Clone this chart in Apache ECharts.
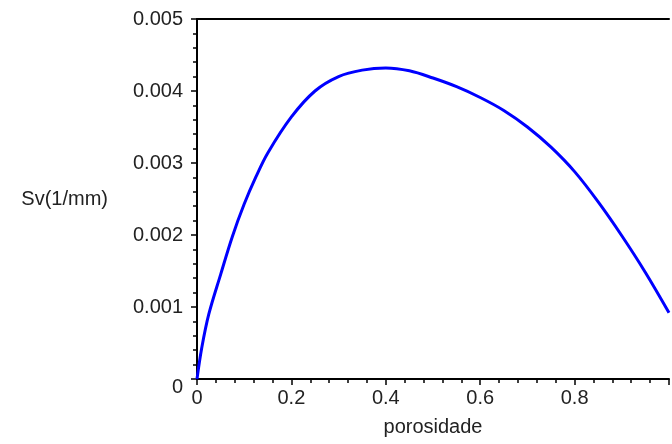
<!DOCTYPE html>
<html><head><meta charset="utf-8">
<script src="https://cdn.jsdelivr.net/npm/echarts@6/dist/echarts.min.js"></script>
<style>html,body{margin:0;padding:0;background:#fff}#c{width:672px;height:444px}</style>
</head><body><div id="c"></div>
<script>
const porosity = [0, 0.01, 0.025, 0.05, 0.075, 0.1, 0.125, 0.15, 0.2, 0.25, 0.3, 0.35, 0.4, 0.45, 0.5, 0.55, 0.6, 0.65, 0.7, 0.75, 0.8, 0.85, 0.9, 0.95, 1.0];
const sv = [0, 0.00043, 0.0009, 0.00145, 0.00198, 0.00243, 0.00281, 0.00314, 0.00364, 0.004, 0.0042, 0.00429, 0.00432, 0.00428, 0.00418, 0.00406, 0.00391, 0.00373, 0.0035, 0.00322, 0.00288, 0.00246, 0.00199, 0.00148, 0.00092];
const xTickLabels = ['0', '0.2', '0.4', '0.6', '0.8', ''];
const yTickLabels = ['0', '0.001', '0.002', '0.003', '0.004', '0.005'];
const xName = 'porosidade';
const yName = 'Sv(1/mm)';

const font = 'Liberation Sans, Arial, sans-serif';
const fs = 20;
const txt = '#222';
const points = porosity.map((p, i) => [p, sv[i]]);

const chart = echarts.init(document.getElementById('c'), null, {renderer: 'canvas'});
chart.setOption({
  animation: false,
  backgroundColor: '#fff',
  grid: {left: 197, right: -6, top: 19, bottom: 65, containLabel: false},
  xAxis: [{
    type: 'value', min: 0, max: 1, interval: 0.2, position: 'bottom',
    name: xName, nameLocation: 'middle', nameGap: 38,
    nameTextStyle: {fontFamily: font, fontSize: fs, color: txt},
    axisLine: {show: true, onZero: false, lineStyle: {color: '#000', width: 2}},
    axisTick: {show: true, length: 6, lineStyle: {color: '#000', width: 1.5}},
    minorTick: {show: true, splitNumber: 5, length: 4, lineStyle: {color: '#000', width: 1.5}},
    splitLine: {show: false},
    axisLabel: {margin: 9, fontFamily: font, fontSize: fs, color: txt,
      formatter: v => xTickLabels[Math.round(v * 5)] || ''}
  }, {
    type: 'value', min: 0, max: 1, position: 'top',
    axisLine: {show: true, onZero: false, lineStyle: {color: '#000', width: 2}},
    axisTick: {show: false}, axisLabel: {show: false}, splitLine: {show: false}
  }],
  yAxis: {
    type: 'value', min: 0, max: 0.005, interval: 0.001,
    name: yName, nameLocation: 'middle', nameRotate: 0, nameGap: 89,
    nameTextStyle: {fontFamily: font, fontSize: fs, color: txt, align: 'right', verticalAlign: 'middle'},
    axisLine: {show: true, onZero: false, lineStyle: {color: '#000', width: 2}},
    axisTick: {show: true, length: 6, lineStyle: {color: '#000', width: 1.5}},
    minorTick: {show: true, splitNumber: 5, length: 4, lineStyle: {color: '#000', width: 1.5}},
    splitLine: {show: false},
    axisLabel: {margin: 14, fontFamily: font, fontSize: fs, color: txt,
      formatter: v => {
        const i = Math.round(v * 1000);
        return i === 0 ? '{z|' + yTickLabels[0] + '}' : (yTickLabels[i] || '');
      },
      rich: {z: {fontFamily: font, fontSize: fs, color: txt, padding: [16, 0, 0, 0]}}
    }
  },
  series: [{
    type: 'line', data: points, smooth: 0.35, showSymbol: false, clip: true,
    lineStyle: {color: '#0000ff', width: 3}
  }]
});
</script></body></html>
